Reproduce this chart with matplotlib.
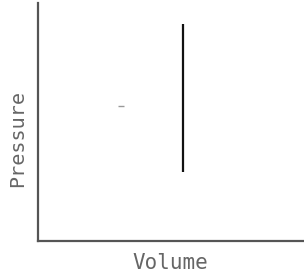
import matplotlib
matplotlib.use("Agg")
import matplotlib.pyplot as plt

# isochoric step: constant volume, pressure changes
step_volume = [0.545, 0.545]
step_pressure = [0.29, 0.912]

# small stray mark left of the line
dot_volume = [0.313]
dot_pressure = [0.568]

x_label = "Volume"
y_label = "Pressure"

fig = plt.figure(figsize=(3.04, 2.75), dpi=100)
ax = fig.add_axes([0.1234, 0.1236, 0.8766, 0.8655])

ax.plot(step_volume, step_pressure, color="#111111", lw=1.6, solid_capstyle="butt")
ax.plot(dot_volume, dot_pressure, marker="_", color="#999999", ms=4, mew=1, ls="none")

ax.set_xlim(0, 1)
ax.set_ylim(0, 1)
ax.set_xticks([])
ax.set_yticks([])
for side in ["top", "right"]:
    ax.spines[side].set_visible(False)
for side in ["left", "bottom"]:
    ax.spines[side].set_color("#555555")
    ax.spines[side].set_linewidth(1.6)

ax.set_xlabel(x_label, family="DejaVu Sans Mono", fontsize=15, color="#666666")
ax.set_ylabel(y_label, family="DejaVu Sans Mono", fontsize=14.5, color="#666666")
ax.xaxis.set_label_coords(0.5, -0.05)
ax.yaxis.set_label_coords(-0.038, 0.43)

fig.savefig("out.png", dpi=100)
